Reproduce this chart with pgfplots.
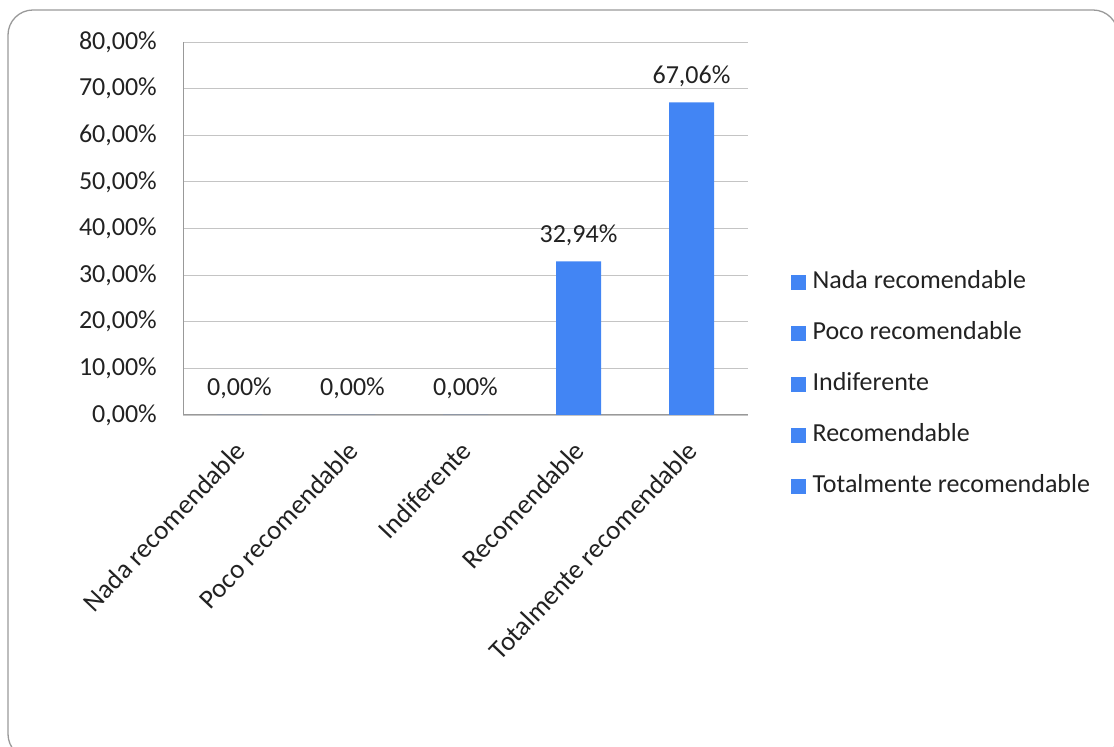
\documentclass[border=0pt]{standalone}
\usepackage{pgfplots}
\pgfplotsset{compat=1.18}
\usepackage{fontspec}
\setmainfont{Carlito}
\definecolor{barblue}{HTML}{4285F4}
\definecolor{txt}{HTML}{222222}
\definecolor{gridc}{HTML}{C4C4C4}
\definecolor{axc}{HTML}{999999}
\begin{document}
\fontsize{26}{31}\selectfont
\begin{tikzpicture}[x=1pt,y=1pt]
\useasboundingbox (0,0) rectangle (1114,747);
\draw[color=axc, line width=1.3pt, rounded corners=25pt] (8,-12) rectangle (1118,737);
\begin{axis}[
  at={(183pt,332pt)}, anchor=south west,
  scale only axis, width=565pt, height=373pt,
  xmin=-0.5, xmax=4.5, ymin=0, ymax=80,
  ytick={0,10,...,80},
  yticklabels={0{,}00\%,10{,}00\%,20{,}00\%,30{,}00\%,40{,}00\%,50{,}00\%,60{,}00\%,70{,}00\%,80{,}00\%},
  xtick={0,1,2,3,4},
  xticklabels={Nada recomendable,Poco recomendable,Indiferente,Recomendable,Totalmente recomendable},
  major tick length=0pt,
  ymajorgrids, grid style={color=gridc, line width=0.9pt},
  axis x line*=bottom, axis y line*=left,
  x axis line style={color=axc, line width=1pt, -},
  y axis line style={color=axc, line width=1pt, -},
  tick label style={text=txt, font=\fontsize{26}{31}\selectfont},
  yticklabel style={anchor=east, inner sep=0pt, xshift=-26pt},
  xticklabel style={inner sep=0pt, yshift=-31pt, xshift=1pt, rotate=46.5, anchor=east, font=\fontsize{27}{32}\selectfont},
  ybar, bar width=45pt,
  /pgf/number format/assume math mode=true,
  legend style={at={(1.0761,0.082)}, anchor=west, draw=none, fill=none, inner sep=0pt,
    font=\fontsize{26}{31}\selectfont, text=txt,
    nodes={inner sep=0pt, text height=18pt, text depth=6pt},
    row sep=27pt, column sep=0pt},
  legend cell align=left,
]
\addplot[draw=none, fill=barblue, bar shift=0pt, forget plot,
  nodes near coords={\pgfmathprintnumber[fixed,fixed zerofill,precision=2,use comma]{\pgfplotspointmeta}\%},
  nodes near coords style={anchor=base, inner sep=0pt, yshift=19pt, text=txt, font=\fontsize{26}{31}\selectfont},
] coordinates {(0,0) (1,0) (2,0) (3,32.94) (4,67.06)};
\addlegendimage{legend image code/.code={\fill[barblue] (0pt,-7pt) rectangle (14pt,7pt);\path (21pt,0pt);}}
\addlegendentry{Nada recomendable}
\addlegendimage{legend image code/.code={\fill[barblue] (0pt,-7pt) rectangle (14pt,7pt);\path (21pt,0pt);}}
\addlegendentry{Poco recomendable}
\addlegendimage{legend image code/.code={\fill[barblue] (0pt,-7pt) rectangle (14pt,7pt);\path (21pt,0pt);}}
\addlegendentry{Indiferente}
\addlegendimage{legend image code/.code={\fill[barblue] (0pt,-7pt) rectangle (14pt,7pt);\path (21pt,0pt);}}
\addlegendentry{Recomendable}
\addlegendimage{legend image code/.code={\fill[barblue] (0pt,-7pt) rectangle (14pt,7pt);\path (21pt,0pt);}}
\addlegendentry{Totalmente recomendable}
\end{axis}
\end{tikzpicture}
\end{document}
